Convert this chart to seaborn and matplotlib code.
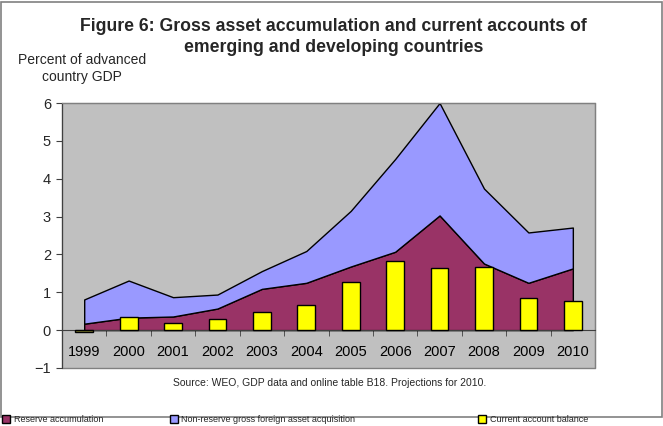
import numpy as np
import matplotlib
matplotlib.use('Agg')
import matplotlib.pyplot as plt
from matplotlib.patches import Rectangle
import seaborn as sns

years = ['1999', '2000', '2001', '2002', '2003', '2004',
         '2005', '2006', '2007', '2008', '2009', '2010']
reserve = [0.17, 0.33, 0.36, 0.57, 1.09, 1.25, 1.68, 2.07, 3.03, 1.76, 1.25, 1.63]
non_reserve = [0.64, 0.98, 0.51, 0.37, 0.47, 0.84, 1.47, 2.45, 2.97, 1.98, 1.33, 1.08]
current_account = [-0.06, 0.35, 0.19, 0.30, 0.49, 0.66, 1.28, 1.82, 1.63, 1.67, 0.85, 0.76]
labels = ['Reserve accumulation', 'Non-reserve gross foreign asset acquisition',
          'Current account balance']

sns.set_style('white')
plt.rcParams['font.family'] = ['Liberation Sans', 'DejaVu Sans']

fig = plt.figure(figsize=(6.63, 4.26), dpi=100)
ax = fig.add_axes([0.0935, 0.1362, 0.804, 0.622])
ax.set_facecolor('#C0C0C0')

x = np.arange(len(years))
res = np.array(reserve)
tot = res + np.array(non_reserve)

a1 = ax.fill_between(x, 0, res, facecolor='#993366', edgecolor='black', linewidth=1,
                     zorder=1)
a2 = ax.fill_between(x, res, tot, facecolor='#9999FF', edgecolor='black', linewidth=1,
                     zorder=1)

bar_colors = ['#8C8C30' if v < 0 else '#FFFF00' for v in current_account]
sns.barplot(x=years, y=current_account, hue=years, palette=bar_colors, legend=False,
            width=0.4, edgecolor='black', linewidth=1, saturation=1, ax=ax, zorder=3)

ax.set_xlim(-0.5, 11.5)
ax.set_ylim(-1, 6)
ax.set_yticks(range(-1, 7))
ax.set_xticks(x)
ax.set_xticklabels(years)
ax.set_xticks(np.arange(0.5, 12, 1), minor=True)
ax.set_xlabel('')
ax.set_ylabel('')

ax.spines['bottom'].set_position(('data', 0))
ax.spines['bottom'].set_color('#404040')
ax.spines['left'].set_color('#404040')
ax.spines['top'].set_color('#808080')
ax.spines['right'].set_color('#808080')
ax.add_patch(Rectangle((0, 0), 1, 1, transform=ax.transAxes, fill=False,
                       edgecolor='#808080', linewidth=1, clip_on=False, zorder=0))

ax.tick_params(axis='x', which='major', length=0, pad=11, labelsize=10.5, colors='black')
ax.tick_params(axis='x', which='minor', length=4, direction='out', color='#404040',
               bottom=True)
ax.tick_params(axis='y', length=4, direction='out', color='#404040', left=True,
               labelsize=10.5, pad=4)

fig.text(0.503, 0.958, 'Figure 6: Gross asset accumulation and current accounts of\n'
         'emerging and developing countries', ha='center', va='top',
         fontsize=12.7, fontweight='bold', linespacing=1.32)
fig.text(0.124, 0.876, 'Percent of advanced\ncountry GDP', ha='center', va='top',
         fontsize=10, linespacing=1.3)
fig.text(0.497, 0.1, 'Source: WEO, GDP data and online table B18. Projections for 2010.',
         ha='center', va='center', fontsize=7.5)

fig.add_artist(Rectangle((0.0015, 0.0211), 0.997, 0.974, transform=fig.transFigure,
                         fill=False, edgecolor='#808080', linewidth=1.2))

# legend entries below the frame, one per series at the reference's x positions
handles = [a1, a2, Rectangle((0, 0), 1, 1, facecolor='#FFFF00', edgecolor='black')]
for h, lab, x0 in zip(handles, labels, [0.003, 0.256, 0.721]):
    fig.legend([h], [lab], loc='lower left', bbox_to_anchor=(x0, 0.004),
               frameon=False, fontsize=6.5, handlelength=0.9, handleheight=0.9,
               handletextpad=0.4, borderpad=0, borderaxespad=0)

fig.savefig('out.png', dpi=100)
